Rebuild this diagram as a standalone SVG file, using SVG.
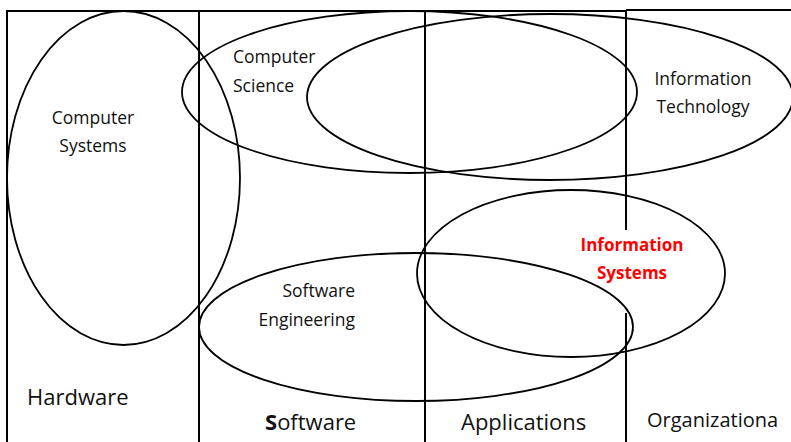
<svg xmlns="http://www.w3.org/2000/svg" width="791" height="442" viewBox="0 0 791 442">
<style>
.ln{stroke:#000;stroke-width:2;fill:none}
.el{stroke:#000;stroke-width:1.8;fill:none}
.t{font-family:"Open Sans","Liberation Sans",sans-serif;font-size:17.5px;fill:#111}
.big{font-family:"Open Sans","Liberation Sans",sans-serif;font-size:22px;fill:#111}
.red{font-family:"Open Sans","Liberation Sans",sans-serif;font-size:17px;font-weight:bold;fill:#ff0000}
</style>
<rect width="791" height="442" fill="#fff"/>
<g id="columns">
<path class="ln" d="M7,442 V11 H626 M626,10 H791 M199,11 V442 M425,11 V442 M626,10 V230 M626,313 V442"/>
</g>
<g id="column-labels">
<text class="big" x="27" y="405">Hardware</text>
<text class="big" x="265" y="430"><tspan font-weight="bold">S</tspan>oftware</text>
<text class="big" x="461" y="430">Applications</text>
<text class="big" x="647" y="427" style="font-size:20px">Organizationa</text>
</g>
<g id="computer-systems">
<ellipse class="el" cx="123.5" cy="178" rx="116.5" ry="167"/>
<text class="t" text-anchor="middle" x="93" y="124">Computer</text>
<text class="t" text-anchor="middle" x="93" y="152">Systems</text>
</g>
<g id="computer-science">
<ellipse class="el" cx="409.5" cy="92" rx="227.5" ry="81"/>
<text class="t" x="233" y="63">Computer</text>
<text class="t" x="233" y="92">Science</text>
</g>
<g id="information-technology">
<ellipse class="el" cx="550" cy="97" rx="243" ry="83"/>
<text class="t" text-anchor="middle" x="703" y="85">Information</text>
<text class="t" text-anchor="middle" x="703" y="113">Technology</text>
</g>
<g id="software-engineering">
<ellipse class="el" cx="416" cy="327" rx="217" ry="74"/>
<text class="t" text-anchor="end" x="355" y="297">Software</text>
<text class="t" text-anchor="end" x="355" y="326">Engineering</text>
</g>
<g id="information-systems">
<ellipse class="el" cx="571" cy="273.5" rx="154" ry="83.5"/>
<text class="red" text-anchor="middle" x="632" y="251">Information</text>
<text class="red" text-anchor="middle" x="632" y="279">Systems</text>
</g>
</svg>
